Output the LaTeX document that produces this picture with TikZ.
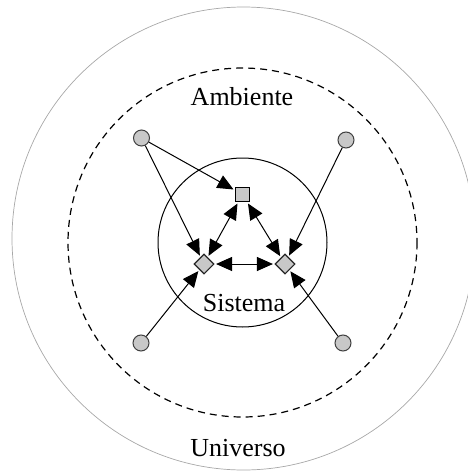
\documentclass[tikz,border=0pt]{standalone}
\usepackage{fontspec}
\setmainfont{Liberation Serif}
\usetikzlibrary{arrows.meta, shapes.geometric}
\definecolor{ugray}{HTML}{A8A8A8}
\definecolor{efill}{HTML}{C8C8C8}
\definecolor{edraw}{HTML}{404040}
\tikzset{
  elem/.style={circle, draw=edraw, fill=efill, line width=1pt,
               minimum size=16pt, inner sep=0pt},
  sqbox/.style={rectangle, draw=black, fill=efill, line width=1.4pt,
                minimum size=14pt, inner sep=0pt},
  dmbox/.style={diamond, aspect=1, draw=black!85, fill=efill, line width=1.1pt,
                minimum size=20pt, inner sep=0pt},
  lbl/.style={font=\fontsize{26}{29}\selectfont},
  arr/.style={-{Triangle[length=16pt,width=14pt]}, line width=1pt, shorten >=1.5pt},
  darr/.style={{Triangle[length=16pt,width=14pt]}-{Triangle[length=16pt,width=14pt]},
               line width=1pt, shorten >=1.5pt, shorten <=1.5pt},
}
\begin{document}
\begin{tikzpicture}[x=1pt, y=-1pt]
  \useasboundingbox (0,0) rectangle (467,472);
  % nested regions
  \coordinate (c) at (242.5,242.5);
  \draw[ugray, line width=0.7pt] (243.5,238.5) circle (231.5);
  \draw[black, line width=1.2pt, dash pattern=on 7pt off 5pt] (c) circle (174.5);
  \draw[black, line width=1pt] (c) circle (84.5);
  \node[lbl] (amb) at (242,97) {Ambiente};
  \node[lbl] (sis) at (244,303) {Sistema};
  \node[lbl] (uni) at (238,448) {Universo};
  % elements
  \node[elem] (e1) at (141.5,138) {};
  \node[elem] (e2) at (346,140) {};
  \node[elem] (e3) at (141,343) {};
  \node[elem] (e4) at (343,343) {};
  \node[sqbox] (s0) at (242.5,194.5) {};
  \node[dmbox] (s1) at (204,264) {};
  \node[dmbox] (s2) at (285,264) {};
  % connections
  \draw[arr] (e1) -- (s0);
  \draw[arr] (e1) -- (s1);
  \draw[arr] (e2) -- (s2);
  \draw[arr] (e3) -- (s1);
  \draw[arr] (e4) -- (s2);
  \draw[darr] (s0) -- (s1);
  \draw[darr] (s0) -- (s2);
  \draw[darr] (s1) -- (s2);
\end{tikzpicture}
\end{document}
